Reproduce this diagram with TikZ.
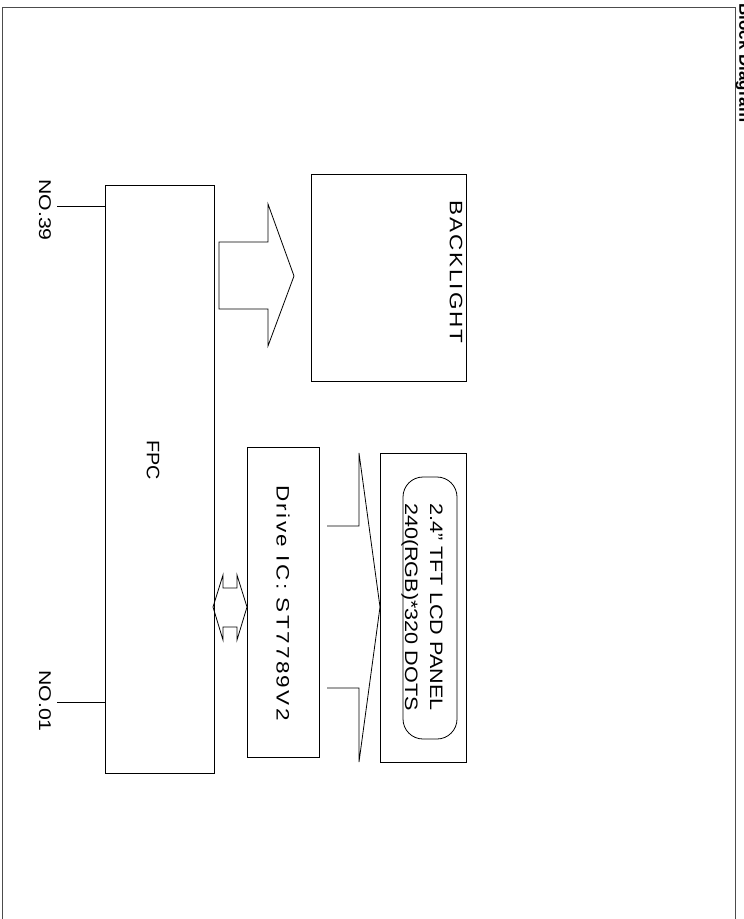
\documentclass[tikz,border=0pt]{standalone}
\usepackage{fontspec}
\setmainfont{Liberation Sans}
\begin{document}
\begin{tikzpicture}[x=1pt,y=-1pt,line width=0.8pt,
  lbl/.style={rotate=-90,inner sep=0pt,align=center},
  big/.style={font=\fontsize{18}{22}\selectfont\addfontfeatures{FakeStretch=1.25,LetterSpace=13}},
  bltxt/.style={font=\fontsize{18}{22}\selectfont\addfontfeatures{FakeStretch=1.25,LetterSpace=11}},
  pin/.style={font=\fontsize{17}{17}\selectfont\addfontfeatures{FakeStretch=1.25}},
  lcdtxt/.style={font=\fontsize{18}{25}\selectfont\addfontfeatures{FakeStretch=1.2}}]
\useasboundingbox (0,0) rectangle (744,919);
% page frame
\draw[black!70] (2,935) -- (2,7) -- (735,7) -- (735,935);
\node[font=\bfseries\fontsize{17}{17}\selectfont,rotate=-90,anchor=north west,inner sep=0pt] (title) at (752,3) {Block Diagram};
% FPC
\draw (105,185) rectangle (214,773);
\node[lbl,font=\fontsize{18}{18}\selectfont\addfontfeatures{FakeStretch=1.1}] (fpc) at (153,460) {FPC};
\coordinate (p39) at (105,206);
\coordinate (p01) at (105,702);
\coordinate (p39e) at (57,206);
\coordinate (p01e) at (57,702);
\draw (p39) -- (p39e);
\draw (p01) -- (p01e);
\node[lbl,pin] (n39) at (45,210) {NO.39};
\node[lbl,pin] (n01) at (45,701) {NO.01};
% Backlight
\draw (311,174) rectangle (466,381);
\node[lbl,bltxt] (bl) at (456,272) {BACKLIGHT};
% arrow FPC -> backlight
\draw (219,242) -- (268,242) -- (268,204) -- (294,276) -- (268,346) -- (268,309) -- (219,309) -- cycle;
% Drive IC
\draw (247,447) rectangle (319,757);
\node[lbl,big] (ic) at (283,603) {Drive IC: ST7789V2};
% double arrow
\draw (213,607) -- (223,575) -- (223,588) -- (237,588) -- (237,575) -- (247,607) -- (237,640) -- (237,627) -- (223,627) -- (223,640) -- cycle;
% arrow IC -> LCD
\draw (327,526) -- (359,526) -- (359,453) -- (380,607) -- (359,762) -- (359,688) -- (327,688);
% LCD
\draw (380,453) rectangle (466,762);
\draw[rounded corners=20pt] (403,477) rectangle (457,739);
\node[lbl,lcdtxt] (lcd) at (422,607) {2.4” TFT LCD PANEL\\240(RGB)*320 DOTS};
\end{tikzpicture}
\end{document}
